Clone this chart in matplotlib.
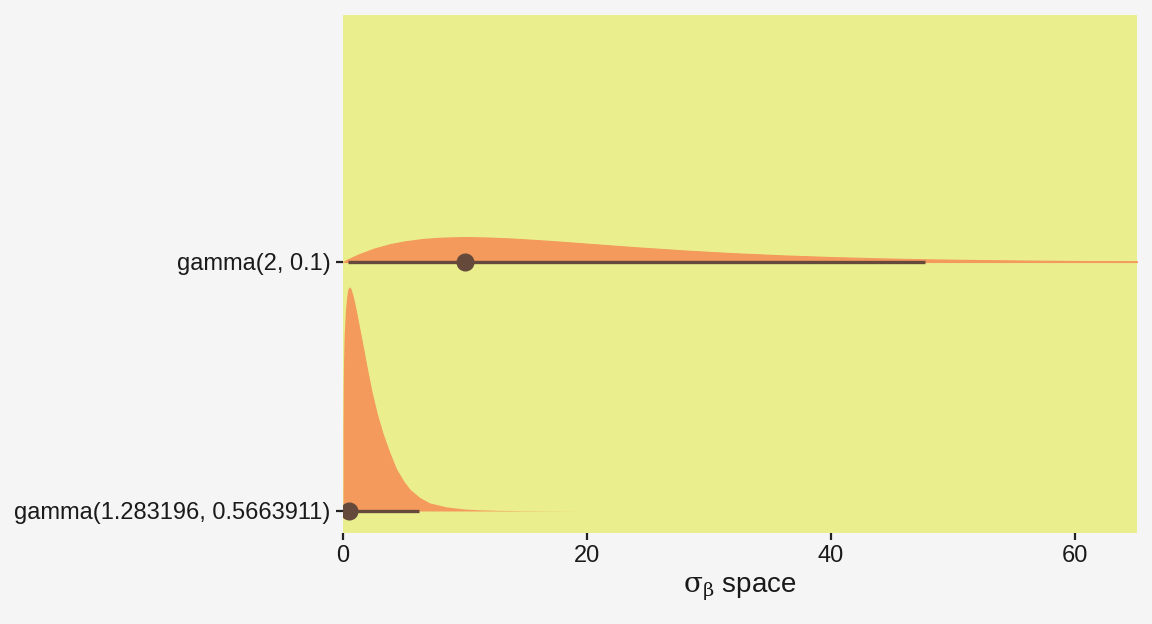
import numpy as np
import matplotlib
matplotlib.use('Agg')
import matplotlib.pyplot as plt

plt.rcParams['font.family'] = ['Liberation Sans', 'DejaVu Sans']
plt.rcParams['mathtext.fontset'] = 'dejavuserif'

# prior labels (bottom to top)
labels = ['gamma(1.283196, 0.5663911)', 'gamma(2, 0.1)']

# density, gamma(1.283196, 0.5663911)
x_lo = [0, 0.005, 0.01, 0.02, 0.03, 0.05, 0.1, 0.2, 0.3, 0.4, 0.5, 0.65, 0.8,
        0.95, 1.1, 1.25, 1.4, 1.7, 2.0, 2.4, 2.8, 3.3, 3.9, 4.4, 5.0, 5.5,
        6.3, 7.1, 8.5, 9.9, 11.2, 12.6, 14.5, 17, 20]
d_lo = [0, 0.12, 0.145, 0.175, 0.195, 0.222, 0.26, 0.295, 0.316, 0.327, 0.331,
        0.329, 0.320, 0.309, 0.296, 0.282, 0.268, 0.240, 0.211, 0.175, 0.145,
        0.114, 0.084, 0.062, 0.044, 0.032, 0.020, 0.012, 0.006, 0.003,
        0.0017, 0.001, 0.0005, 0.0002, 0]

# density, gamma(2, 0.1)
x_hi = [0, 0.3, 1.2, 2.5, 3.8, 5, 6.5, 8, 10, 12, 14, 16, 18, 20, 24, 28, 32,
        36, 40, 44, 48, 52, 56, 60, 65.2]
d_hi = [0, 0.003, 0.0106, 0.0195, 0.0260, 0.0303, 0.0339, 0.0359, 0.0368,
        0.0361, 0.0345, 0.0323, 0.0298, 0.0271, 0.0218, 0.0170, 0.0130,
        0.0098, 0.0073, 0.0054, 0.0039, 0.0029, 0.0021, 0.0015, 0.0010]

# mode and 95% HDI
modes = [0.5, 10.0]
hdi_lo = [0.0, 0.42]
hdi_hi = [6.2, 47.7]

panel = '#EBEE8D'
fill = '#F39A5C'
brown = '#654A3C'

fig = plt.figure(figsize=(11.52, 6.24), dpi=100, facecolor='#F5F5F5')
ax = fig.add_axes([0.2977, 0.146, 0.6893, 0.830])
ax.set_facecolor(panel)

scale = 0.9 / max(max(d_lo), max(d_hi))
for i, (xs, ds) in enumerate([(x_lo, d_lo), (x_hi, d_hi)]):
    y0 = i + 1
    ax.fill_between(xs, y0, y0 + np.array(ds) * scale, color=fill,
                    lw=0.8 if i == 1 else 0, edgecolor=fill, zorder=2)
    ax.plot([hdi_lo[i], hdi_hi[i]], [y0, y0], color=brown, lw=2.4,
            solid_capstyle='butt', zorder=3)
    ax.plot(modes[i], y0, 'o', color=brown, ms=12, zorder=4)

ax.set_xlim(0, 65.1)
ax.set_ylim(0.912, 2.992)
ax.set_yticks([1, 2])
ax.set_yticklabels(labels)
ax.set_xticks([0, 20, 40, 60])
for s in ax.spines.values():
    s.set_visible(False)
ax.tick_params(axis='both', colors='#222222', labelcolor='#1a1a1a',
               labelsize=17, length=5, width=1.6, pad=4)
ax.set_xlabel(r'$\mathrm{\sigma_{\beta}}$ space', fontsize=20, color='#1a1a1a',
              labelpad=6)

fig.savefig('out.png', dpi=100, facecolor=fig.get_facecolor())
